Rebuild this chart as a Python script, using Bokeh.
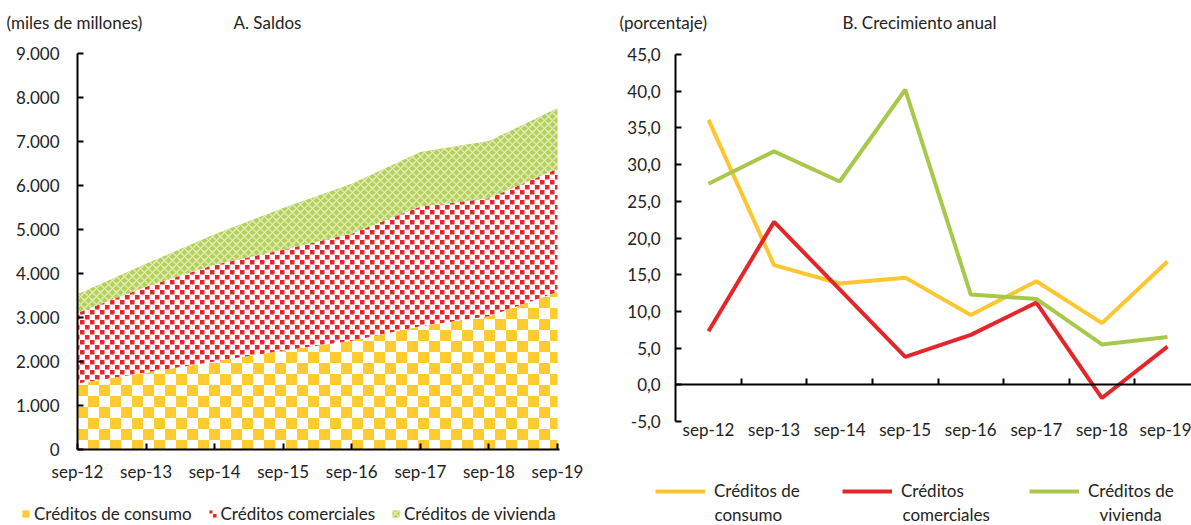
from bokeh.plotting import figure
from bokeh.models import (Range1d, FixedTicker, Legend, LegendItem, Label,
                          LinearAxis, ColumnDataSource, CanvasTexture)
from bokeh.layouts import row
from bokeh.embed import file_html
from bokeh.resources import INLINE

# ---------------- data ----------------
periods = ["sep-12", "sep-13", "sep-14", "sep-15", "sep-16", "sep-17", "sep-18", "sep-19"]

saldo_consumo = [1500, 1750, 2000, 2250, 2470, 2800, 3030, 3580]
saldo_comerciales = [1610, 1950, 2200, 2290, 2440, 2720, 2680, 2800]
saldo_vivienda = [420, 520, 690, 950, 1130, 1240, 1300, 1380]

crec_consumo = [36.1, 16.3, 13.8, 14.6, 9.5, 14.1, 8.4, 16.8]
crec_comerciales = [7.3, 22.2, 13.0, 3.8, 6.8, 11.2, -1.8, 5.2]
crec_vivienda = [27.4, 31.8, 27.7, 40.2, 12.3, 11.7, 5.5, 6.5]

saldo_ticks = [0, 1000, 2000, 3000, 4000, 5000, 6000, 7000, 8000, 9000]
saldo_tick_labels = ["0", "1.000", "2.000", "3.000", "4.000", "5.000",
                     "6.000", "7.000", "8.000", "9.000"]
crec_ticks = [-5, 0, 5, 10, 15, 20, 25, 30, 35, 40, 45]
crec_tick_labels = ["-5,0", "0,0", "5,0", "10,0", "15,0", "20,0",
                    "25,0", "30,0", "35,0", "40,0", "45,0"]

series_names = ["Créditos de consumo", "Créditos comerciales", "Créditos de vivienda"]
legend_b_line1 = ["Créditos de", "Créditos", "Créditos de"]
legend_b_line2 = ["consumo", "comerciales", "vivienda"]

# ---------------- style / layout ----------------
FONT = "Lato"
FS = "17px"
TXT = "#222222"
YELLOW = "#FFCB2F"
RED = "#E3262A"
GREEN = "#A8C84C"
W1, W2, H = 597, 594, 525


def px_range(v0, p0, v1, p1, size):
    """Range so that value v0 sits at pixel p0 and v1 at pixel p1 (pixels from left/bottom)."""
    k = (v1 - v0) / (p1 - p0)
    start = v0 - p0 * k
    return Range1d(start, start + size * k)


def style_axis(ax, size=FS):
    ax.major_label_text_font = FONT
    ax.major_label_text_font_size = size
    ax.major_label_text_color = TXT
    ax.axis_line_color = "black"
    ax.axis_line_width = 2
    ax.major_tick_line_color = "black"
    ax.major_tick_line_width = 2
    ax.minor_tick_line_color = None


def text_label(p, x, y, txt):
    p.add_layout(Label(x=x, y=y, x_units="screen", y_units="screen", text=txt,
                       text_font=FONT, text_font_size=FS, text_color=TXT,
                       text_baseline="middle"))


x = list(range(len(periods)))

# ================= panel A: saldos (stacked areas) =================
src = ColumnDataSource(dict(x=x, consumo=saldo_consumo,
                            comerciales=saldo_comerciales, vivienda=saldo_vivienda))

p1 = figure(width=W1, height=H,
            x_range=px_range(x[0], 77, x[-1], 557, W1),
            y_range=px_range(saldo_ticks[0], H - 449, saldo_ticks[-1], H - 53, H),
            x_axis_type=None, y_axis_type=None,
            output_backend="svg", toolbar_location=None,
            min_border=0, min_border_left=0, min_border_right=0,
            min_border_top=0, min_border_bottom=0)
p1.outline_line_color = None
p1.background_fill_color = "white"
p1.border_fill_color = "white"

checker = CanvasTexture(code="""
const n = 22, s = 11;
ctx.canvas.width = n; ctx.canvas.height = n;
ctx.setTransform(1, 0, 0, 1, 0, 0);
ctx.fillStyle = "#FFFFFF"; ctx.fillRect(0, 0, n, n);
ctx.fillStyle = "#FFCB2F";
ctx.fillRect(0, 0, s, s); ctx.fillRect(s, s, s, s);
""")
dots = CanvasTexture(code="""
const n = 10, s = 5, d = 4.5;
ctx.canvas.width = n; ctx.canvas.height = n;
ctx.setTransform(1, 0, 0, 1, 0, 0);
ctx.fillStyle = "#FFFFFF"; ctx.fillRect(0, 0, n, n);
ctx.fillStyle = "#E8262B";
ctx.fillRect(0, 0, d, d); ctx.fillRect(s, s, d, d);
""")

areas = p1.varea_stack(["consumo", "comerciales", "vivienda"], x="x", source=src,
                       fill_color=["white", "white", "#B3CF58"],
                       hatch_pattern=["cross", "dot", "diagonal_cross"],
                       hatch_color=[YELLOW, RED, "white"],
                       hatch_scale=[11, 10, 8],
                       hatch_weight=[5, 4, 1.5],
                       hatch_alpha=[1, 1, 0.6],
                       hatch_extra={"cross": checker, "dot": dots})

ya1 = LinearAxis(fixed_location=x[0], bounds=(saldo_ticks[0], saldo_ticks[-1]),
                 ticker=FixedTicker(ticks=saldo_ticks),
                 major_label_overrides={t: l for t, l in zip(saldo_ticks, saldo_tick_labels)},
                 major_tick_in=6, major_tick_out=0, major_label_standoff=18)
style_axis(ya1)
p1.add_layout(ya1, "left")

xa1 = LinearAxis(fixed_location=saldo_ticks[0], bounds=(x[0], x[-1] + 0.03),
                 ticker=FixedTicker(ticks=x),
                 major_label_overrides={i: lab for i, lab in zip(x, periods)},
                 major_tick_in=6, major_tick_out=0, major_label_standoff=11)
style_axis(xa1)
p1.add_layout(xa1, "below")

leg1 = Legend(items=[LegendItem(label=n, renderers=[r]) for n, r in zip(series_names, areas)],
              orientation="horizontal", location=(21, 1),
              glyph_width=9, glyph_height=9, label_standoff=4, spacing=16,
              padding=0, margin=0, border_line_color=None, background_fill_alpha=0,
              label_text_font=FONT, label_text_font_size=FS, label_text_color=TXT)
p1.add_layout(leg1)

text_label(p1, 6, H - 22, "(miles de millones)")
text_label(p1, 233, H - 22, "A. Saldos")

# ================= panel B: crecimiento anual (lines) =================
p2 = figure(width=W2, height=H,
            x_range=px_range(x[0], 708 - W1, x[-1], 1167 - W1, W2),
            y_range=px_range(crec_ticks[0], H - 421, crec_ticks[-1], H - 54, H),
            x_axis_type=None, y_axis_type=None,
            output_backend="svg", toolbar_location=None,
            min_border=0, min_border_left=0, min_border_right=0,
            min_border_top=0, min_border_bottom=0)
p2.outline_line_color = None
p2.background_fill_color = "white"
p2.border_fill_color = "white"

l_cons = p2.line(x, crec_consumo, line_color="#FCC72E", line_width=4)
l_com = p2.line(x, crec_comerciales, line_color=RED, line_width=4)
l_viv = p2.line(x, crec_vivienda, line_color=GREEN, line_width=4)

# y axis at the left category edge
ya2 = LinearAxis(fixed_location=x[0] - 0.5, bounds=(crec_ticks[0], crec_ticks[-1]),
                 ticker=FixedTicker(ticks=crec_ticks),
                 major_label_overrides={t: l for t, l in zip(crec_ticks, crec_tick_labels)},
                 major_tick_in=6, major_tick_out=0, major_label_standoff=15)
style_axis(ya2)
p2.add_layout(ya2, "left")

# zero line with category-boundary ticks
mid = LinearAxis(fixed_location=0, bounds=(x[0] - 0.5, x[-1] + 1),
                 ticker=FixedTicker(ticks=[i + 0.5 for i in x[:-1]]),
                 major_tick_in=6, major_tick_out=0,
                 major_label_text_alpha=0, major_label_text_font_size="1px")
style_axis(mid)
p2.add_layout(mid, "below")

# category labels under the plot
xl2 = LinearAxis(fixed_location=crec_ticks[0] + 0.4, ticker=FixedTicker(ticks=x),
                 major_label_overrides={i: lab for i, lab in zip(x, periods)},
                 major_tick_in=0, major_tick_out=0, major_label_standoff=0)
style_axis(xl2)
xl2.axis_line_color = None
xl2.major_tick_line_color = None
p2.add_layout(xl2, "below")

leg2 = Legend(items=[LegendItem(label=n, renderers=[r]) for n, r in
                     zip(legend_b_line1, [l_cons, l_com, l_viv])],
              orientation="horizontal", location=(655 - W1, 24),
              glyph_width=50, glyph_height=20, label_standoff=9, spacing=40,
              label_width=88,
              padding=0, margin=0, border_line_color=None, background_fill_alpha=0,
              label_text_font=FONT, label_text_font_size=FS, label_text_color=TXT)
p2.add_layout(leg2)

for xx, txt in zip([714, 902, 1099], legend_b_line2):
    text_label(p2, xx - W1, H - 514, txt)

text_label(p2, 619 - W1, H - 22, "(porcentaje)")
text_label(p2, 842 - W1, H - 22, "B. Crecimiento anual")

layout = row(p1, p2)
open("out.html", "w").write(file_html(layout, INLINE))
